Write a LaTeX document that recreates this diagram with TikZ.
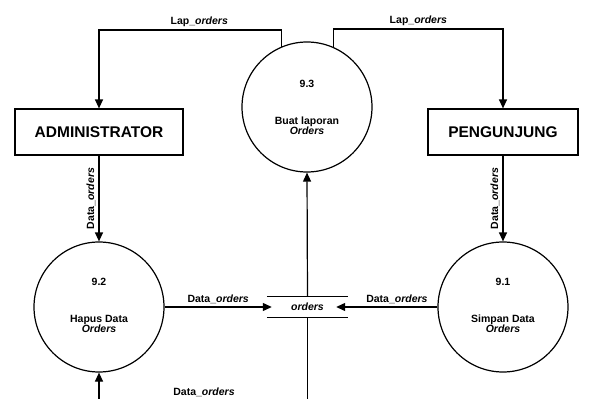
\documentclass[tikz,border=0pt]{standalone}
\usepackage{fontspec}
\setmainfont{Liberation Sans}
\usetikzlibrary{arrows.meta}
\usetikzlibrary{calc,positioning}

\tikzset{
    proses/.style={draw, circle, line width=1.2pt, minimum size=130pt, inner sep=0pt},
    entitas/.style={draw, rectangle, line width=1.2pt, minimum height=46pt, font=\fontsize{15.5}{17}\selectfont\bfseries},
    simpan/.style={minimum width=81pt, minimum height=20pt, inner sep=0pt, font=\fontsize{10.5}{12}\selectfont\bfseries\itshape},
    aliran/.style={line width=1.2pt},
    ket/.style={font=\fontsize{10.5}{12}\selectfont\bfseries, inner sep=3pt}
}

\newcommand{\isiproses}[2]{%
    \begin{tabular}{@{}c@{}}#1\\[25pt]#2\\[-2pt]\textit{Orders}\end{tabular}}

\begin{document}
\begin{tikzpicture}[x=1pt, y=-1pt, >={Triangle[length=9pt,width=8pt]}]
    \useasboundingbox (0,0) rectangle (590,399);

    % entitas luar
    \node[entitas, minimum width=168pt] (admin) at (99,132) {ADMINISTRATOR};
    \node[entitas, minimum width=150pt] (pengunjung) at (503,132) {PENGUNJUNG};

    % proses
    \node[proses] (p93) at (307,107) {};
    \node[ket] (t93) at (307,109) {\isiproses{9.3}{Buat laporan}};
    \node[proses] (p92) at (99,307) {};
    \node[ket] (t92) at (99,307) {\isiproses{9.2}{Hapus Data}};
    \node[proses] (p91) at (503,307) {};
    \node[ket] (t91) at (503,307) {\isiproses{9.1}{Simpan Data}};

    % data store
    \node[simpan] (st) at (307.5,307) {orders};
    \draw[aliran] (st.north west) -- (st.north east);
    \draw[aliran] (st.south west) -- (st.south east);

    % laporan
    \draw[aliran, ->] (p93.113.6) -- ($(p93.113.6 |- 0,30)$) -- node[ket, above, pos=0.45]{Lap\_\textit{orders}} ($(admin.north |- 0,30)$) -- (admin.north);
    \draw[aliran, ->] (p93.66.4) -- ($(p93.66.4 |- 0,29)$) -- node[ket, above, pos=0.5]{Lap\_\textit{orders}} ($(pengunjung.north |- 0,29)$) -- (pengunjung.north);

    % data masuk
    \draw[aliran, ->] (admin.south) -- node[ket, rotate=90, anchor=south]{Data\_\textit{orders}} (p92.north);
    \draw[aliran, ->] (pengunjung.south) -- node[ket, rotate=90, anchor=south]{Data\_\textit{orders}} (p91.north);

    \draw[aliran, ->] (p92.east) -- node[ket, above, pos=0.5]{Data\_\textit{orders}} ([xshift=5pt]st.west);
    \draw[aliran, ->] (p91.west) -- node[ket, above, pos=0.4]{Data\_\textit{orders}} ([xshift=-12pt]st.east);

    \draw[aliran, ->] (st.north) -- (p93.south);

    % bagian bawah (terpotong)
    \coordinate (bawahA) at (99,399);
    \coordinate (bawahB) at (307.5,399);
    \draw[aliran, ->] (bawahA) -- (p92.south);
    \draw[aliran] (st.south) -- (bawahB);
    \node[ket] (ketbawah) at (204,392) {Data\_\textit{orders}};
\end{tikzpicture}
\end{document}
